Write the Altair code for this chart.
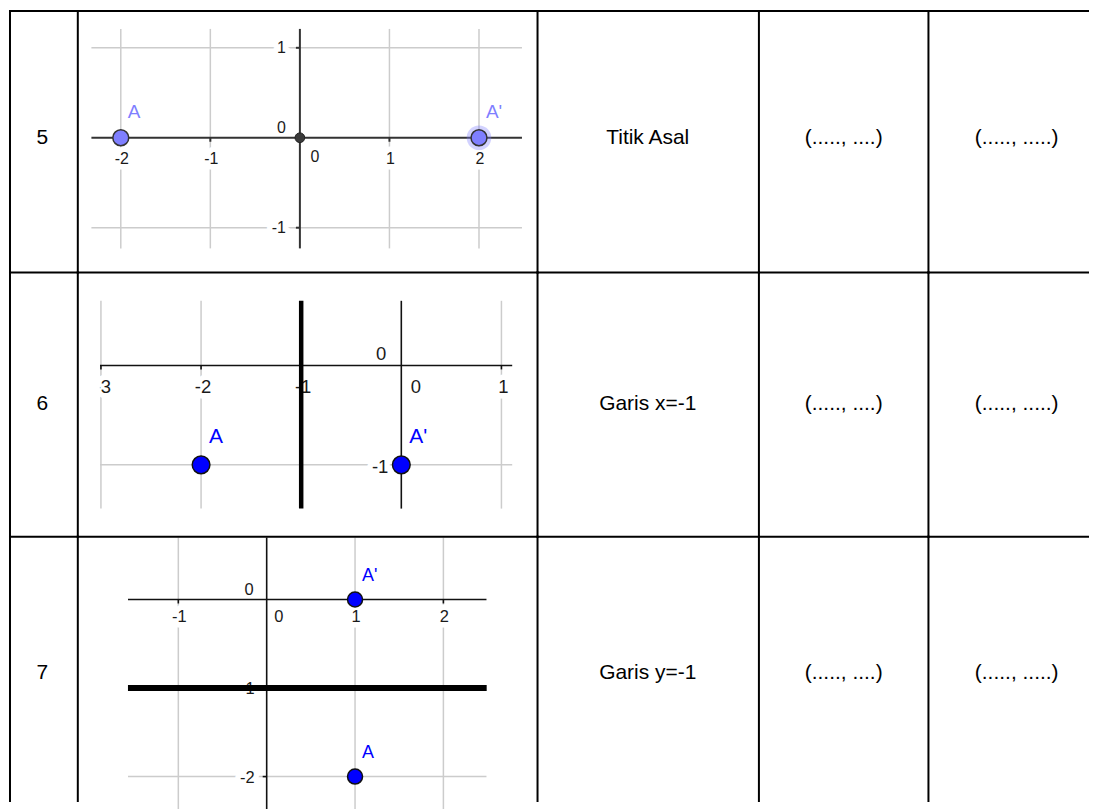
import altair as alt
import pandas as pd

# ---------------- table text ----------------
row_numbers = ["5", "6", "7"]
descriptions = ["Titik Asal", "Garis x=-1", "Garis y=-1"]
answer_a = ["(....., ....)", "(....., ....)", "(....., ....)"]
answer_b = ["(....., .....)", "(....., .....)", "(....., .....)"]

# ---------------- graph, row 5 (reflection in the origin) ----------------
g5_xlim = [-2.33, 2.48]
g5_ylim = [-1.23, 1.21]
g5_grid_x = [-2, -1, 1, 2]
g5_grid_y = [-1, 1]
g5_xticks = [-2, -1, 1, 2]
g5_yticks = [-1, 1]
g5_names = ["A", "A'"]
g5_px = [-2, 2]
g5_py = [0, 0]
g5_focus = ["A'"]
g5_thick_x = []
g5_thick_y = []

# ---------------- graph, row 6 (mirror line x = -1) ----------------
g6_xlim = [-3.01, 1.11]
g6_ylim = [-1.44, 0.65]
g6_grid_x = [-3, -2, 1]
g6_grid_y = [-1]
g6_xticks = [-3, -2, -1, 1]
g6_yticks = [-1]
g6_names = ["A", "A'"]
g6_px = [-2, 0]
g6_py = [-1, -1]
g6_focus = []
g6_thick_x = [-1]
g6_thick_y = []

# ---------------- graph, row 7 (mirror line y = -1) ----------------
g7_xlim = [-1.57, 2.49]
g7_ylim = [-2.40, 0.70]
g7_grid_x = [-1, 1, 2]
g7_grid_y = [-2]
g7_xticks = [-1, 1, 2]
g7_yticks = [-1, -2]
g7_names = ["A'", "A"]
g7_px = [1, 1]
g7_py = [0, -2]
g7_focus = []
g7_thick_x = []
g7_thick_y = [-1]

graphs = [
    dict(xlim=g5_xlim, ylim=g5_ylim, grid_x=g5_grid_x, grid_y=g5_grid_y, xticks=g5_xticks,
         yticks=g5_yticks, names=g5_names, px=g5_px, py=g5_py, focus=g5_focus,
         thick_x=g5_thick_x, thick_y=g5_thick_y),
    dict(xlim=g6_xlim, ylim=g6_ylim, grid_x=g6_grid_x, grid_y=g6_grid_y, xticks=g6_xticks,
         yticks=g6_yticks, names=g6_names, px=g6_px, py=g6_py, focus=g6_focus,
         thick_x=g6_thick_x, thick_y=g6_thick_y),
    dict(xlim=g7_xlim, ylim=g7_ylim, grid_x=g7_grid_x, grid_y=g7_grid_y, xticks=g7_xticks,
         yticks=g7_yticks, names=g7_names, px=g7_px, py=g7_py, focus=g7_focus,
         thick_x=g7_thick_x, thick_y=g7_thick_y),
]

# ---------------- styles / layout ----------------
FONT = "Liberation Sans, Arial, sans-serif"
GRID = "#cccccc"
col_w = [68, 461, 222, 170, 160]
row_h = [262, 265, 265]
text_cy = [127.5, 132, 137]
text_cx = [32.3, None, 110.5, 85, 88.5]

styles = [
    dict(origin=(222.7, 127), unit=(89.8, 90.2), tick_font=16, xl=(1, 21.3), yl=(-14, 0),
         zx=(15, 19), zy=(-14, -10), axis_color="#333333", axis_w=2,
         pt_fill="#7f7fff", pt_stroke="#333333", pt_size=254, lab_color="#7f7fff",
         lab_font=19, lab=(7, -26), halo=11, thick_w=0, origin_dot=True),
    dict(origin=(324.4, 93.3), unit=(100.4, 99.7), tick_font=18.5, xl=(2, 21.7), yl=(-13, 2.5),
         zx=(14.6, 21.7), zy=(-15, -11.6), axis_color="#111111", axis_w=1.6,
         pt_fill="#0000ff", pt_stroke="#111111", pt_size=314, lab_color="#0000ff",
         lab_font=21, lab=(8, -28), halo=11, thick_w=4.5, origin_dot=False),
    dict(origin=(189.4, 63), unit=(88.6, 88.8), tick_font=16.5, xl=(1, 17.7), yl=(-12, 1),
         zx=(12.3, 17.7), zy=(-13, -9), axis_color="#111111", axis_w=1.6,
         pt_fill="#0000ff", pt_stroke="#111111", pt_size=227, lab_color="#0000ff",
         lab_font=18, lab=(7, -24), halo=11, thick_w=6, origin_dot=False),
]


def fmt(v):
    return str(int(v)) if v == int(v) else str(v)


def border_layers(w, h):
    """Top and left cell borders of the table."""
    df = pd.DataFrame({"k": [0]})
    base = alt.Chart(df).mark_rule(color="black", strokeWidth=2, strokeCap="square")
    return [
        base.encode(x=alt.value(0), x2=alt.value(w), y=alt.value(0)),
        base.encode(x=alt.value(0), y=alt.value(0), y2=alt.value(h)),
    ]


def graph_chart(d, st, w, h):
    ox, oy = st["origin"]
    ux, uy = st["unit"]
    xs = alt.Scale(domain=[-ox / ux, (w - ox) / ux], nice=False, zero=False)
    ys = alt.Scale(domain=[-(h - oy) / uy, oy / uy], nice=False, zero=False)

    def X(f):
        return alt.X(f, type="quantitative", scale=xs, axis=None)

    def Y(f):
        return alt.Y(f, type="quantitative", scale=ys, axis=None)

    x0, x1 = d["xlim"]
    y0, y1 = d["ylim"]

    def seg_layer(rows, color, width):
        df = pd.DataFrame(rows, columns=["x", "y", "x2", "y2"])
        return alt.Chart(df).mark_rule(color=color, strokeWidth=width).encode(
            x=X("x"), y=Y("y"), x2=alt.X2("x2"), y2=alt.Y2("y2"))

    layers = []
    grid_rows = [(v, y0, v, y1) for v in d["grid_x"]] + [(x0, v, x1, v) for v in d["grid_y"]]
    layers.append(seg_layer(grid_rows, GRID, 1.5))

    # tick labels (with a white backing that interrupts grid lines)
    xlab = pd.DataFrame({"x": d["xticks"], "y": [0] * len(d["xticks"]),
                         "t": [fmt(v) for v in d["xticks"]]})
    ylab = pd.DataFrame({"x": [0] * len(d["yticks"]), "y": d["yticks"],
                         "t": [fmt(v) for v in d["yticks"]]})
    zero = pd.DataFrame({"x": [0], "y": [0], "t": ["0"]})
    label_sets = [(xlab, "center", st["xl"]), (ylab, "right", st["yl"]),
                  (zero, "center", st["zx"]), (zero, "right", st["zy"])]
    for df, al, (ddx, ddy) in label_sets:
        layers.append(alt.Chart(df).mark_text(
            font=FONT, fontSize=st["tick_font"], align=al, baseline="middle", dx=ddx, dy=ddy,
            fill="white", stroke="white", strokeWidth=st["halo"], strokeJoin="round"
        ).encode(x=X("x"), y=Y("y"), text="t:N"))

    # axes and tick marks
    tl = 4.0
    axis_rows = [(x0, 0, x1, 0), (0, y0, 0, y1)]
    axis_rows += [(v, 0, v, -tl / uy) for v in d["xticks"]]
    axis_rows += [(0, v, -tl / ux, v) for v in d["yticks"]]
    layers.append(seg_layer(axis_rows, st["axis_color"], st["axis_w"]))

    for df, al, (ddx, ddy) in label_sets:
        layers.append(alt.Chart(df).mark_text(
            font=FONT, fontSize=st["tick_font"], align=al, baseline="middle", dx=ddx, dy=ddy,
            color="#1a1a1a"
        ).encode(x=X("x"), y=Y("y"), text="t:N"))

    # crop edges of the screenshot
    xd = xs.domain
    mask = pd.DataFrame({"x": [xd[0] + 4 / ux, x1], "x2": [x0, xd[1] - 4 / ux],
                         "y": [y0, y0], "y2": [y1, y1]})
    layers.append(alt.Chart(mask).mark_rect(color="white").encode(
        x=X("x"), x2=alt.X2("x2"), y=Y("y"), y2=alt.Y2("y2")))

    # mirror lines
    thick_rows = [(v, y0, v, y1) for v in d["thick_x"]] + [(x0, v, x1, v) for v in d["thick_y"]]
    if thick_rows:
        layers.append(seg_layer(thick_rows, "#000000", st["thick_w"]))

    pts = pd.DataFrame({"name": d["names"], "x": d["px"], "y": d["py"]})
    if d["focus"]:
        foc = pts[pts["name"].isin(d["focus"])]
        layers.append(alt.Chart(foc).mark_circle(
            size=st["pt_size"] * 2.4, color=st["pt_fill"], opacity=0.35
        ).encode(x=X("x"), y=Y("y")))
    if st["origin_dot"]:
        layers.append(alt.Chart(zero).mark_point(
            shape="circle", filled=True, size=95, fill="#3a3a3a", stroke="#222222",
            strokeWidth=1, opacity=1
        ).encode(x=X("x"), y=Y("y")))
    layers.append(alt.Chart(pts).mark_point(
        shape="circle", filled=True, size=st["pt_size"], fill=st["pt_fill"],
        stroke=st["pt_stroke"], strokeWidth=1.5, opacity=1
    ).encode(x=X("x"), y=Y("y")))
    layers.append(alt.Chart(pts).mark_text(
        font=FONT, fontSize=st["lab_font"], align="left", baseline="middle",
        dx=st["lab"][0], dy=st["lab"][1], color=st["lab_color"]
    ).encode(x=X("x"), y=Y("y"), text="name:N"))

    layers += border_layers(w, h)
    return alt.layer(*layers).properties(width=w, height=h)


def text_cell(text, w, h, cx, cy):
    df = pd.DataFrame({"t": [text]})
    txt = alt.Chart(df).mark_text(
        font=FONT, fontSize=21, align="center", baseline="middle", color="black"
    ).encode(text="t:N", x=alt.value(cx), y=alt.value(cy))
    return alt.layer(txt, *border_layers(w, h)).properties(width=w, height=h)


cells = []
for i in range(3):
    h = row_h[i]
    cy = text_cy[i]
    cells += [
        text_cell(row_numbers[i], col_w[0], h, text_cx[0], cy),
        graph_chart(graphs[i], styles[i], col_w[1], h),
        text_cell(descriptions[i], col_w[2], h, text_cx[2], cy),
        text_cell(answer_a[i], col_w[3], h, text_cx[3], cy),
        text_cell(answer_b[i], col_w[4], h, text_cx[4], cy),
    ]

chart = alt.concat(*cells, columns=5, spacing=0, bounds="flush").properties(
    padding=0, background="white"
).configure_view(stroke="transparent", strokeWidth=0)

chart.save("out.html", embed_options={"renderer": "svg", "actions": False})
